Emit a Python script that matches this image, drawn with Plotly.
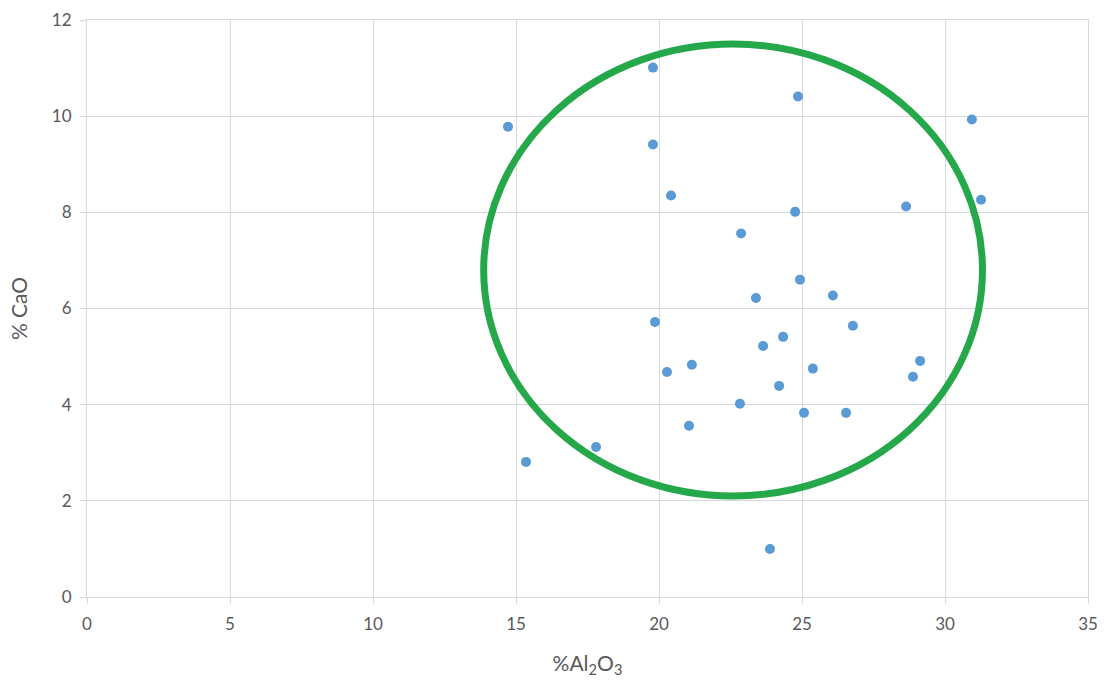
import plotly.graph_objects as go

# Al2O3 (%) vs CaO (%) for each sample
al2o3 = [14.72, 19.79, 19.79, 20.42, 24.86, 30.94, 24.76, 28.64, 31.26, 22.87,
         24.93, 23.39, 26.08, 19.86, 26.78, 24.34, 23.64, 29.13, 20.28, 21.15,
         25.38, 28.88, 24.20, 22.83, 25.07, 26.54, 21.05, 17.80, 15.35, 23.88]
cao = [9.78, 11.01, 9.41, 8.35, 10.41, 9.93, 8.01, 8.12, 8.26, 7.56,
       6.60, 6.22, 6.27, 5.72, 5.64, 5.41, 5.22, 4.91, 4.68, 4.83,
       4.75, 4.58, 4.39, 4.02, 3.83, 3.83, 3.56, 3.12, 2.81, 1.00]

# Ellipse outlining the main cluster (data units)
ellipse_cx, ellipse_cy = 22.59, 6.80
ellipse_rx, ellipse_ry = 8.72, 4.70

x_ticks = [0, 5, 10, 15, 20, 25, 30, 35]
y_ticks = [0, 2, 4, 6, 8, 10, 12]

grid = "#d9d9d9"
text_col = "#595959"
font_family = "Lato, 'Open Sans', sans-serif"

fig = go.Figure()
fig.add_trace(go.Scatter(
    x=al2o3, y=cao, mode="markers",
    marker=dict(color="#5b9bd5", size=10),
    showlegend=False, hoverinfo="x+y",
))

fig.add_shape(
    type="circle", xref="x", yref="y",
    x0=ellipse_cx - ellipse_rx, x1=ellipse_cx + ellipse_rx,
    y0=ellipse_cy - ellipse_ry, y1=ellipse_cy + ellipse_ry,
    line=dict(color="#25a84a", width=7), layer="above",
)

axis_common = dict(
    showgrid=True, gridcolor=grid, gridwidth=1,
    showline=True, linecolor=grid, linewidth=1, mirror=True,
    ticks="outside", ticklen=6, tickcolor=grid,
    zeroline=False, automargin=False,
    tickfont=dict(family=font_family, size=17, color=text_col),
)

fig.update_xaxes(
    range=[0, 35], tickvals=x_ticks, ticktext=[str(v) for v in x_ticks],
    ticklabelstandoff=6,
    title=dict(text="%Al<sub>2</sub>O<sub>3</sub>", standoff=22,
               font=dict(family=font_family, size=21, color=text_col)),
    **axis_common,
)
fig.update_yaxes(
    range=[0, 12], tickvals=y_ticks, ticktext=[str(v) for v in y_ticks],
    ticklabelstandoff=5,
    title=dict(text="% CaO", standoff=18,
               font=dict(family=font_family, size=21, color=text_col)),
    **axis_common,
)

fig.update_layout(
    width=1112, height=680,
    margin=dict(l=87, r=24, t=20, b=83),
    plot_bgcolor="white", paper_bgcolor="white",
)

fig.write_html("out.html")
